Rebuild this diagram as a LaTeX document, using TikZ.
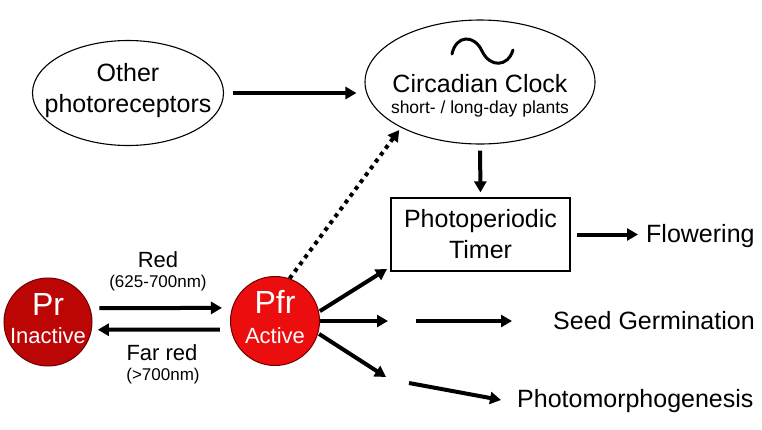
\documentclass[tikz,border=0pt]{standalone}
\usepackage{fontspec}
\setmainfont{Liberation Sans}
\usetikzlibrary{shapes.geometric,arrows.meta}
\definecolor{prred}{RGB}{188,6,6}
\definecolor{pfrred}{RGB}{236,14,14}
\definecolor{rimred}{RGB}{110,0,0}
\tikzset{
  txt/.style={inner sep=0pt, font=\fontsize{25}{30}\selectfont},
  smalltxt/.style={inner sep=0pt, font=\fontsize{17.5}{21}\selectfont},
  lbl/.style={inner sep=0pt, font=\fontsize{22}{26}\selectfont},
  lblsmall/.style={inner sep=0pt, font=\fontsize{17}{20}\selectfont},
  ell/.style={ellipse, draw, line width=1.1pt, inner sep=0pt},
  pigment/.style={circle, draw=rimred, line width=1pt, inner sep=0pt},
  whitebig/.style={inner sep=0pt, text=white, font=\fontsize{32}{36}\selectfont},
  whitesmall/.style={inner sep=0pt, text=white, font=\fontsize{22}{26}\selectfont},
  arr/.style={line width=4pt, -{Triangle[length=11pt,width=12pt]}},
  dotarr/.style={line width=4pt, dash pattern=on 4pt off 4.5pt, -{Triangle[length=11pt,width=12pt]}},
}
\begin{document}
\begin{tikzpicture}[x=1pt,y=-1pt]
\useasboundingbox (0,0) rectangle (762,429);
\fill[white] (0,0) rectangle (762,429);

% Other photoreceptors
\node[ell, minimum width=191pt, minimum height=105pt] (other) at (128,93) {};
\node[txt, anchor=base] (othert1) at (128,81) {Other};
\node[txt, anchor=base] (othert2) at (128,112) {photoreceptors};

% Circadian clock
\node[ell, minimum width=230pt, minimum height=124pt] (clock) at (480,82) {};
\draw[line width=3pt, line cap=round] (452,54) .. controls (456,35) and (474,34) .. (482,51) .. controls (490,68) and (508,67) .. (513,50);
\node[txt, anchor=base] (clockt1) at (480,92) {Circadian Clock};
\node[smalltxt, anchor=base] (clockt2) at (480,113) {short- / long-day plants};

% Photoperiodic timer
\node[draw, line width=1.2pt, minimum width=179pt, minimum height=73pt, inner sep=0pt] (timer) at (480.5,234.5) {};
\node[txt, anchor=base] (timert1) at (480.5,227) {Photoperiodic};
\node[txt, anchor=base] (timert2) at (480.5,258) {Timer};

% Outputs
\node[txt, anchor=base west] (flower) at (646,242) {Flowering};
\node[txt, anchor=base west] (seed) at (553,329) {Seed Germination};
\node[txt, anchor=base west] (morph) at (517,407) {Photomorphogenesis};

% Pigments
\node[pigment, fill=prred, minimum size=88pt] (pr) at (48,322) {};
\node[whitebig, anchor=base] (prt1) at (48,315) {Pr};
\node[whitesmall, anchor=base] (prt2) at (48,343) {Inactive};
\node[pigment, fill=pfrred, minimum size=89pt] (pfr) at (275,321) {};
\node[whitebig, anchor=base] (pfrt1) at (275,313) {Pfr};
\node[whitesmall, anchor=base] (pfrt2) at (275,343) {Active};

% Light labels
\node[lbl, anchor=base] (red) at (158,267) {Red};
\node[lblsmall, anchor=base] (rednm) at (158,287) {(625-700nm)};
\node[lbl, anchor=base] (farred) at (162,360) {Far red};
\node[lblsmall, anchor=base] (farrednm) at (163,380) {(>700nm)};

% Free ends of the branch arrows
\coordinate (b1) at (387,269);
\coordinate (b2) at (388,321);
\coordinate (b3) at (416,321);
\coordinate (b4) at (512,321);
\coordinate (b5) at (386,377);
\coordinate (b6) at (409,383);
\coordinate (b7) at (501,400);

% Connectors
\draw[arr, shorten <=9pt, shorten >=8pt] (other.east) -- (other.east -| clock.west);
\draw[dotarr, shorten >=3pt] (pfr.71) -- (clock.210);
\draw[arr, shorten <=6pt, shorten >=5pt] (clock.south) -- (timer.north);
\draw[arr, shorten <=6pt, shorten >=8pt] (timer.east) -- (timer.east -| flower.west);
\draw[arr, shorten <=9pt, shorten >=10pt] (pr.18.5) -- (pfr.163);
\draw[arr, shorten <=11pt, shorten >=6pt] (pfr.191.7) -- (pr.-10.5);
\draw[arr, shorten <=1pt] (pfr.12) -- (b1);
\draw[arr] (pfr.east) -- (b2);
\draw[arr] (b3) -- (b4);
\draw[arr, shorten <=1pt] (pfr.-16) -- (b5);
\draw[arr] (b6) -- (b7);
\end{tikzpicture}
\end{document}
